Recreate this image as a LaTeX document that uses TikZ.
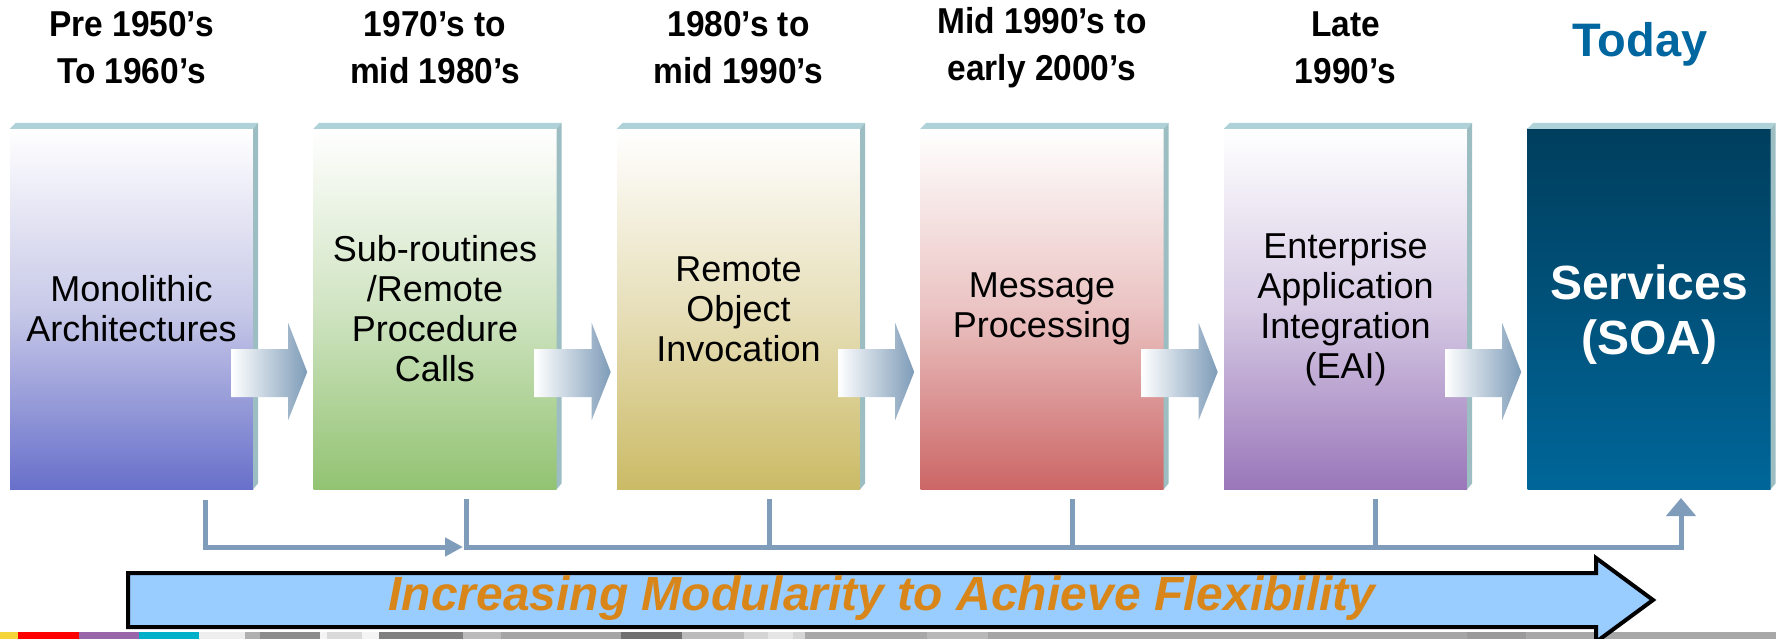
\documentclass[tikz,border=0pt]{standalone}
\usepackage{fontspec}
\setmainfont{Liberation Sans}
\newfontfamily\erafont[FakeStretch=0.93]{Liberation Sans}
\usetikzlibrary{arrows.meta}

\definecolor{boneBot}{HTML}{6870CA}
\definecolor{boneMid}{HTML}{C8C9E8}
\definecolor{btwoBot}{HTML}{92C372}
\definecolor{btwoMid}{HTML}{D0E4C2}
\definecolor{bthreeBot}{HTML}{CBBB66}
\definecolor{bthreeMid}{HTML}{E7DFBA}
\definecolor{bfourBot}{HTML}{CC6666}
\definecolor{bfourMid}{HTML}{EBC3C3}
\definecolor{bfiveBot}{HTML}{9A77B9}
\definecolor{bfiveMid}{HTML}{D6CAE4}
\definecolor{bsixTop}{HTML}{003E5D}
\definecolor{bsixBot}{HTML}{006699}
\definecolor{edgetop}{HTML}{AED2D7}
\definecolor{edgeside}{HTML}{9CBEC2}
\definecolor{arrowblue}{HTML}{7E9CB8}
\definecolor{connblue}{HTML}{7F9DBA}
\definecolor{flexblue}{HTML}{99CCFF}
\definecolor{flexorange}{HTML}{D8861A}
\definecolor{todayblue}{HTML}{0066A0}
\definecolor{stripyellow}{HTML}{F5D63A}
\definecolor{strippurple}{HTML}{9966AA}
\definecolor{stripcyan}{HTML}{00B0C8}

\begin{document}
\begin{tikzpicture}[x=1pt,y=-1pt,
  box/.style={minimum width=243pt, minimum height=360pt, inner sep=0pt,
    align=center, font=\fontsize{36}{40}\selectfont, shade},
  era/.style={align=center, font=\erafont\bfseries\fontsize{36}{47}\selectfont},
  conn/.style={draw=connblue, line width=5pt, line join=miter},
]
\useasboundingbox (0,0) rectangle (1776,639);
\fill[white] (0,0) rectangle (1776,639);

% era headings
\node[era] (h1) at (131.5,48) {Pre 1950’s\\To 1960’s};
\node[era] (h2) at (435,48) {1970’s to\\mid 1980’s};
\node[era] (h3) at (738.5,48) {1980’s to\\mid 1990’s};
\node[era] (h4) at (1042,48) {Mid 1990’s to\\early 2000’s};
\node[era] (h5) at (1345.5,48) {Late\\1990’s};
\node[font=\bfseries\fontsize{47}{50}\selectfont, text=todayblue] (h6) at (1640,44) {Today};

% architecture stages
\node[box, top color=white, bottom color=boneBot, middle color=boneMid] (b1) at (131.5,309) {Monolithic\\Architectures};
\node[box, top color=white, bottom color=btwoBot, middle color=btwoMid] (b2) at (435,309) {Sub-routines\\/Remote\\Procedure\\Calls};
\node[box, top color=white, bottom color=bthreeBot, middle color=bthreeMid] (b3) at (738.5,309) {Remote\\Object\\Invocation};
\node[box, top color=white, bottom color=bfourBot, middle color=bfourMid] (b4) at (1042,309) {Message\\Processing};
\node[box, top color=white, bottom color=bfiveBot, middle color=bfiveMid] (b5) at (1345.5,309) {Enterprise\\Application\\Integration\\(EAI)};
\node[box, top color=bsixTop, bottom color=bsixBot] (b6) at (1649,309) {};
\node[text=white, align=center, font=\bfseries\fontsize{48}{55}\selectfont] (soa)
  at ([yshift=-6pt]b6.center) {Services\\(SOA)};

% bevelled top and right faces
\foreach \b in {b1,b2,b3,b4,b5,b6}{
  \fill[edgetop] (\b.north west) -- ([shift={(6,-6)}]\b.north west)
    -- ([shift={(5,-6)}]\b.north east) -- (\b.north east) -- cycle;
  \fill[edgeside] (\b.north east) -- ([shift={(5,-6)}]\b.north east)
    -- ([shift={(5,-6)}]\b.south east) -- (\b.south east) -- cycle;
}

% block arrows between stages
\foreach \b in {b1,b2,b3,b4,b5}{
  \shade[left color=white, right color=arrowblue]
    ([shift={(-22,40)}]\b.east) -- ++(57,0) -- ++(0,-26) -- ++(19,49)
    -- ++(-19,48) -- ++(0,-23) -- ++(-57,0) -- cycle;
}

% timeline connectors
\coordinate (bus) at (0,547);
\coordinate (s1) at (205,500);
\coordinate (s2) at (466,499);
\coordinate (s3) at (769,499);
\coordinate (s4) at (1072,499);
\coordinate (s5) at (1375,499);
\coordinate (e6) at (1681,498);
\draw[conn, -{Triangle[length=18pt,width=18pt]}] (s1) |- ([xshift=-3pt]s2 |- bus);
\draw[conn, -{Triangle[length=18pt,width=29pt]}] (s2) -- (s2 |- bus) -- (e6 |- bus) -- (e6);
\foreach \s in {s3,s4,s5}{
  \draw[conn] (\s) -- (\s |- bus);
}

% footer strip
\fill[stripyellow] (0,632) rectangle (18,639);
\fill[red] (18,632) rectangle (79,639);
\fill[strippurple] (79,632) rectangle (139,639);
\fill[stripcyan] (139,632) rectangle (199,639);
\foreach \xa/\xb/\g in {199/245/EEEEEE, 245/260/B0B0B0, 260/320/8C8C8C, 320/327/F4F4F4,
  327/362/DADADA, 362/379/F4F4F4, 379/463/808080, 463/501/BBBBBB, 501/621/A5A5A5,
  621/682/707070, 682/744/BBBBBB, 744/768/D5D5D5, 768/793/E5E5E5, 793/805/D5D5D5,
  805/927/A8A8A8, 927/988/B8B8B8, 988/1467/A5A5A5, 1467/1526/9A9A9A, 1526/1776/A8A8A8}{
  \definecolor{stripc}{HTML}{\g}
  \fill[stripc] (\xa,632) rectangle (\xb,639);
}

% modularity arrow
\filldraw[fill=flexblue, draw=black, line width=4pt, line join=miter]
  (128,573) -- (1596,573) -- (1596,558) -- (1653,600) -- (1596,642)
  -- (1596,627) -- (128,627) -- cycle;
\node[font=\bfseries\itshape\fontsize{48}{50}\selectfont, text=flexorange] (flex)
  at (882,598) {Increasing Modularity to Achieve Flexibility};
\end{tikzpicture}
\end{document}
